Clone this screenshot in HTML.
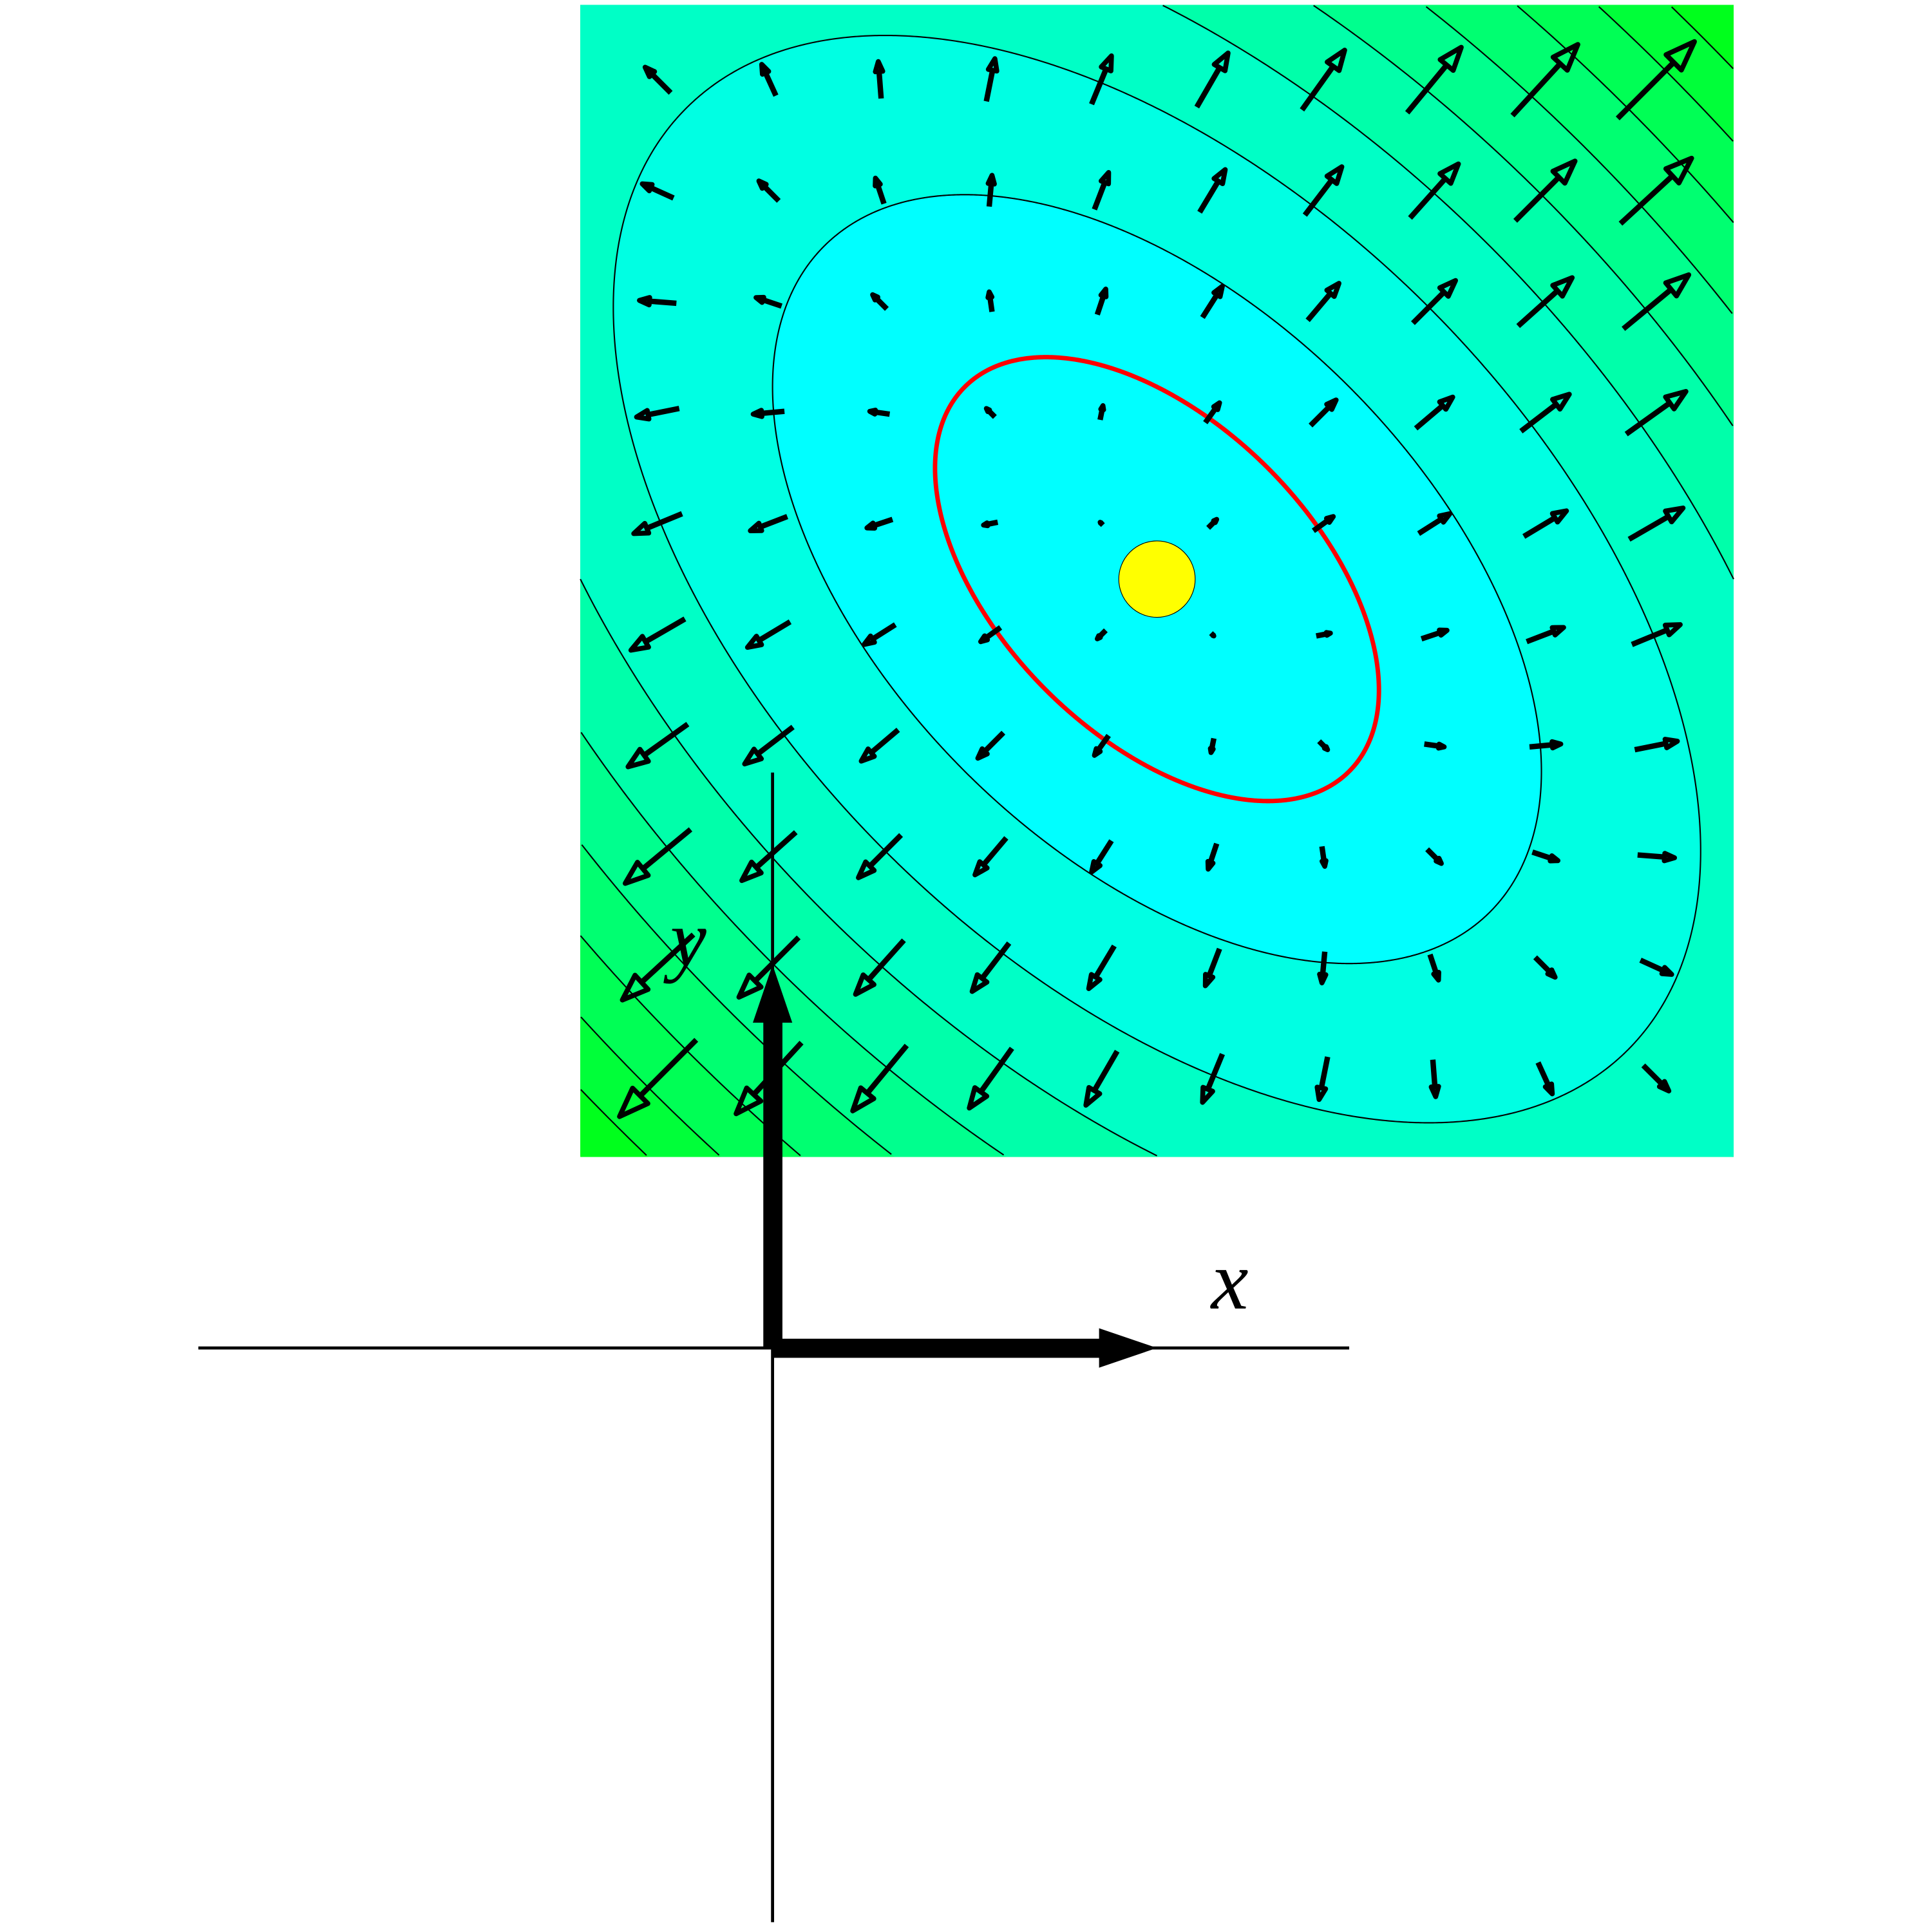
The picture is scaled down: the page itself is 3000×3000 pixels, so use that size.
<!DOCTYPE html>
<html>
<head>
<meta charset="utf-8">
<style>
html,body{margin:0;padding:0;background:#fff;width:3000px;height:3000px;overflow:hidden;}
svg{display:block;overflow:hidden;}
</style>
</head>
<body>
<svg id="chart" width="3000" height="3000" viewBox="0 0 1568 1568" xmlns="http://www.w3.org/2000/svg">
  <g id="field">
    <rect x="471" y="4" width="936" height="935" fill="rgb(0,255,0)"/>
    <g id="bands"></g>
    <g id="contours"></g>
    <g id="arrows"></g>
  </g>
  <g id="axes">
    <line x1="161" y1="1094" x2="1095" y2="1094" stroke="#000" stroke-width="2.5"/>
    <line x1="627" y1="627" x2="627" y2="1560" stroke="#000" stroke-width="2.5"/>
    <rect x="627" y="1086.5" width="267" height="15.5" fill="#000"/>
    <polygon points="892,1078 939,1094 892,1110" fill="#000"/>
    <rect x="619.5" y="828" width="15.5" height="266" fill="#000"/>
    <polygon points="611,830 627,783 643,830" fill="#000"/>
    <text x="983" y="1062" font-family="Liberation Serif, serif" font-style="italic" font-size="68">x</text>
    <text x="544" y="784" font-family="Liberation Serif, serif" font-style="italic" font-size="66">y</text>
  </g>
</svg>
<script>
// data
const matrixA = [4, 2, 2, 4];           // quadratic form [[a,b],[b,c]]
const minimum = [1, 2];                 // minimum of the function (x, y)
const contourLevels = [3, 6, 9, 12, 15, 18, 21, 24, 27];
const highlightLevel = [1];
const gridOffsets = [-4.5, -3.5, -2.5, -1.5, -0.5, 0.5, 1.5, 2.5, 3.5, 4.5];
const gridStep = [0.2885];

// axis functions (display units in 1568 viewBox)
const UNIT = 312, OX = 627, OY = 1094;
function sx(x){ return OX + x*UNIT; }
function sy(y){ return OY - y*UNIT; }
const NS = "http://www.w3.org/2000/svg";
function mk(tag, attrs){ const e=document.createElementNS(NS,tag); for(const k in attrs) e.setAttribute(k, attrs[k]); return e; }
const RX0=471, RY0=4, RX1=1407, RY1=939;

const a=matrixA[0], b=matrixA[1], c=matrixA[3];
const tr=a+c, disc=Math.sqrt((a-c)*(a-c)/4+b*b);
const l1=tr/2+disc, l2=tr/2-disc;
let ev2=[b, l2-a]; if(Math.abs(b)<1e-9) ev2=[0,1];
const n2=Math.hypot(ev2[0],ev2[1]); ev2=[ev2[0]/n2, ev2[1]/n2];
const ev1=[-ev2[1], ev2[0]];
const cx=sx(minimum[0]), cy=sy(minimum[1]);

function ellipsePts(L, n){
  const A2=Math.sqrt(L/l2), A1=Math.sqrt(L/l1), pts=[];
  for(let i=0;i<n;i++){
    const t=2*Math.PI*i/n;
    const u=A2*Math.cos(t)*ev2[0]+A1*Math.sin(t)*ev1[0];
    const v=A2*Math.cos(t)*ev2[1]+A1*Math.sin(t)*ev1[1];
    pts.push([sx(minimum[0]+u), sy(minimum[1]+v)]);
  }
  return pts;
}
function clipEdge(pts, inside, inter){
  const out=[];
  for(let i=0;i<pts.length;i++){
    const P=pts[i], Q=pts[(i+1)%pts.length];
    const pi=inside(P), qi=inside(Q);
    if(pi) out.push(P);
    if(pi!==qi) out.push(inter(P,Q));
  }
  return out;
}
function clipRect(pts){
  const ix=(P,Q,x)=>[x, P[1]+(Q[1]-P[1])*(x-P[0])/(Q[0]-P[0])];
  const iy=(P,Q,y)=>[P[0]+(Q[0]-P[0])*(y-P[1])/(Q[1]-P[1]), y];
  pts=clipEdge(pts,p=>p[0]>=RX0,(P,Q)=>ix(P,Q,RX0));
  pts=clipEdge(pts,p=>p[0]<=RX1,(P,Q)=>ix(P,Q,RX1));
  pts=clipEdge(pts,p=>p[1]>=RY0,(P,Q)=>iy(P,Q,RY0));
  pts=clipEdge(pts,p=>p[1]<=RY1,(P,Q)=>iy(P,Q,RY1));
  return pts;
}
function inRect(p){ return p[0]>=RX0&&p[0]<=RX1&&p[1]>=RY0&&p[1]<=RY1; }
function runs(pts){
  let start=pts.findIndex(p=>!inRect(p));
  if(start<0) return [pts.concat([pts[0]])];
  const res=[]; let cur=[];
  for(let k=0;k<=pts.length;k++){
    const p=pts[(start+k)%pts.length];
    if(inRect(p)) cur.push(p); else { if(cur.length>1) res.push(cur); cur=[]; }
  }
  if(cur.length>1) res.push(cur);
  return res;
}
const fmt=ps=>ps.map(p=>p[0].toFixed(2)+','+p[1].toFixed(2)).join(' ');

const bands=document.getElementById('bands');
contourLevels.slice().reverse().forEach((L)=>{
  const k=contourLevels.indexOf(L);
  const blue=Math.round(255*(1-k/9));
  const poly=clipRect(ellipsePts(L, 720));
  if(poly.length<3) return;
  const e=mk('polygon', {points:fmt(poly), fill:`rgb(0,255,${blue})`});
  
  
  bands.appendChild(e);
});
const cont=document.getElementById('contours');
function drawLine(L, color, w, name){
  runs(ellipsePts(L, 1440)).forEach(r=>{
    const e=mk('polyline', {points:fmt(r), fill:'none', stroke:color, 'stroke-width':w, 'stroke-linejoin':'round'});
    
    
    cont.appendChild(e);
  });
}
contourLevels.forEach(L=>drawLine(L,'#000',1.1,'contour-line'));
highlightLevel.forEach(L=>drawLine(L,'#ff0000',3.6,'highlight-contour'));

const arrows=document.getElementById('arrows');
const SCALE=8;
gridOffsets.forEach(gy=>{
  gridOffsets.forEach(gx=>{
    const u=gx*gridStep[0], v=-gy*gridStep[0];
    const gxv=a*u+b*v, gyv=b*u+c*v;
    const px=sx(minimum[0]+u), py=sy(minimum[1]+v);
    const dx=gxv*SCALE, dy=-gyv*SCALE;
    const L=Math.hypot(dx,dy); if(L<0.5) return;
    const ux=dx/L, uy=dy/L;
    const x0=px-dx/2, y0=py-dy/2, x1=px+dx/2, y1=py+dy/2;
    const h=0.27*L, w=0.37*h;
    const bx=x1-ux*h, by=y1-uy*h;
    const g=mk('g',{});
    
    
    g.appendChild(mk('line',{x1:x0,y1:y0,x2:bx+ux*1,y2:by+uy*1,stroke:'#000','stroke-width':4.4}));
    g.appendChild(mk('polygon',{points:`${x1},${y1} ${bx-uy*w},${by+ux*w} ${bx+uy*w},${by-ux*w}`,fill:'none',stroke:'#000','stroke-width':4,'stroke-linejoin':'round'}));
    arrows.appendChild(g);
  });
});
const dot=mk('circle',{cx:cx,cy:cy,r:31,fill:'#ffff00',stroke:'#000','stroke-width':0.6});


document.getElementById('field').appendChild(dot);
</script>
</body>
</html>
